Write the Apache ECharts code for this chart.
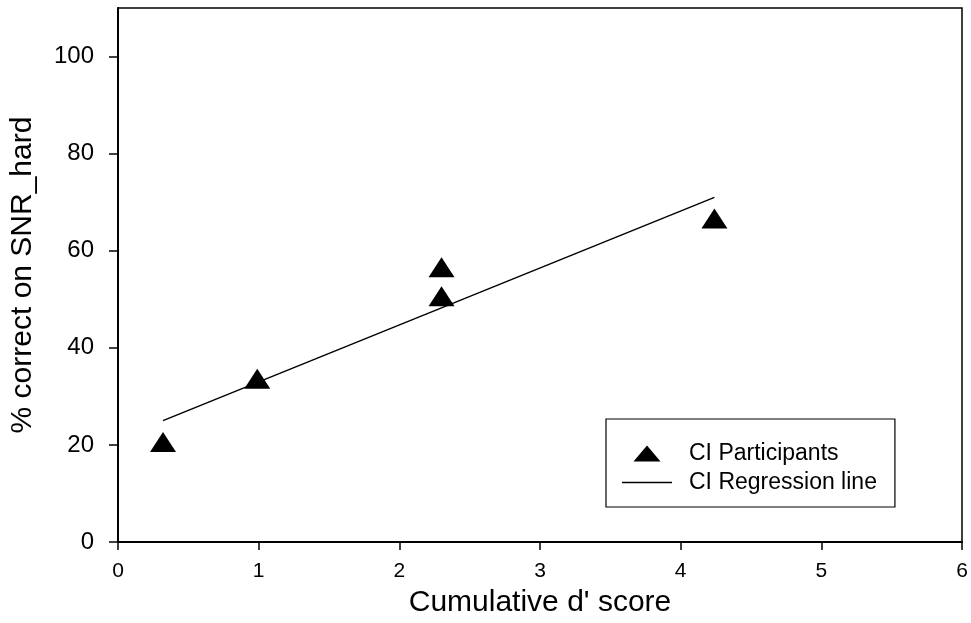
<!DOCTYPE html>
<html>
<head>
<meta charset="utf-8">
<script src="https://cdn.jsdelivr.net/npm/echarts@6/dist/echarts.min.js"></script>
<style>html,body{margin:0;padding:0;background:#fff}#c{width:971px;height:623px}</style>
</head>
<body>
<div id="c"></div>
<script>
var xTicks = [0, 1, 2, 3, 4, 5, 6];
var yTicks = [0, 20, 40, 60, 80, 100];
var participantsX = [0.32, 0.99, 2.30, 2.30, 4.24];
var participantsY = [20, 33, 56, 50, 66];
var regressionX = [0.32, 4.24];
var regressionY = [25, 71];

var FONT = '"Liberation Sans", Arial, Helvetica, sans-serif';
var chart = echarts.init(document.getElementById('c'));
chart.setOption({
  animation: false,
  backgroundColor: '#fff',
  grid: { left: 118, right: 9, top: 8, bottom: 81, show: true, borderColor: '#000', borderWidth: 1.5, backgroundColor: 'transparent' },
  xAxis: {
    type: 'value', min: xTicks[0], max: xTicks[xTicks.length - 1], interval: 1,
    name: "Cumulative d' score", nameLocation: 'middle', nameGap: 46,
    nameTextStyle: { fontFamily: FONT, fontSize: 30, color: '#000' },
    axisLine: { lineStyle: { color: '#000', width: 2 } },
    axisTick: { inside: false, length: 8, lineStyle: { color: '#000', width: 1.5 } },
    axisLabel: { fontFamily: FONT, fontSize: 21, color: '#000', margin: 19 },
    splitLine: { show: false }
  },
  yAxis: {
    type: 'value', min: 0, max: 110, interval: 20,
    name: '% correct on SNR_hard', nameLocation: 'middle', nameGap: 80,
    nameTextStyle: { fontFamily: FONT, fontSize: 30, color: '#000' },
    axisLine: { show: true, lineStyle: { color: '#000', width: 2 } },
    axisTick: { show: true, inside: false, length: 9, customValues: yTicks, lineStyle: { color: '#000', width: 1.5 } },
    axisLabel: { fontFamily: FONT, fontSize: 24, color: '#000', margin: 24, customValues: yTicks },
    splitLine: { show: false }
  },
  legend: {
    orient: 'vertical', left: 606, top: 419,
    padding: [23, 18, 13, 16],
    itemWidth: 50, itemHeight: 16, itemGap: 6,
    borderColor: '#000', borderWidth: 1.2,
    symbolKeepAspect: true,
    textStyle: { fontFamily: FONT, fontSize: 23, color: '#000', padding: [0, 0, 0, 12] },
    data: [
      { name: 'CI Participants', icon: 'path://M13.5,0 L27,16 L0,16 Z', itemStyle: { color: '#000', opacity: 1 } },
      { name: 'CI Regression line', icon: 'path://M0,0 L50,0 L50,1.5 L0,1.5 Z', itemStyle: { color: '#000', opacity: 1 } }
    ]
  },
  series: [
    {
      name: 'CI Participants', type: 'scatter',
      symbol: 'triangle', symbolSize: [26, 20], symbolOffset: [0, -3],
      itemStyle: { color: '#000', opacity: 1 },
      data: participantsX.map(function (x, i) { return [x, participantsY[i]]; })
    },
    {
      name: 'CI Regression line', type: 'line',
      symbol: 'none', showSymbol: false,
      lineStyle: { color: '#000', width: 1.5 },
      itemStyle: { color: '#000' },
      data: regressionX.map(function (x, i) { return [x, regressionY[i]]; })
    }
  ]
});
</script>
</body>
</html>
